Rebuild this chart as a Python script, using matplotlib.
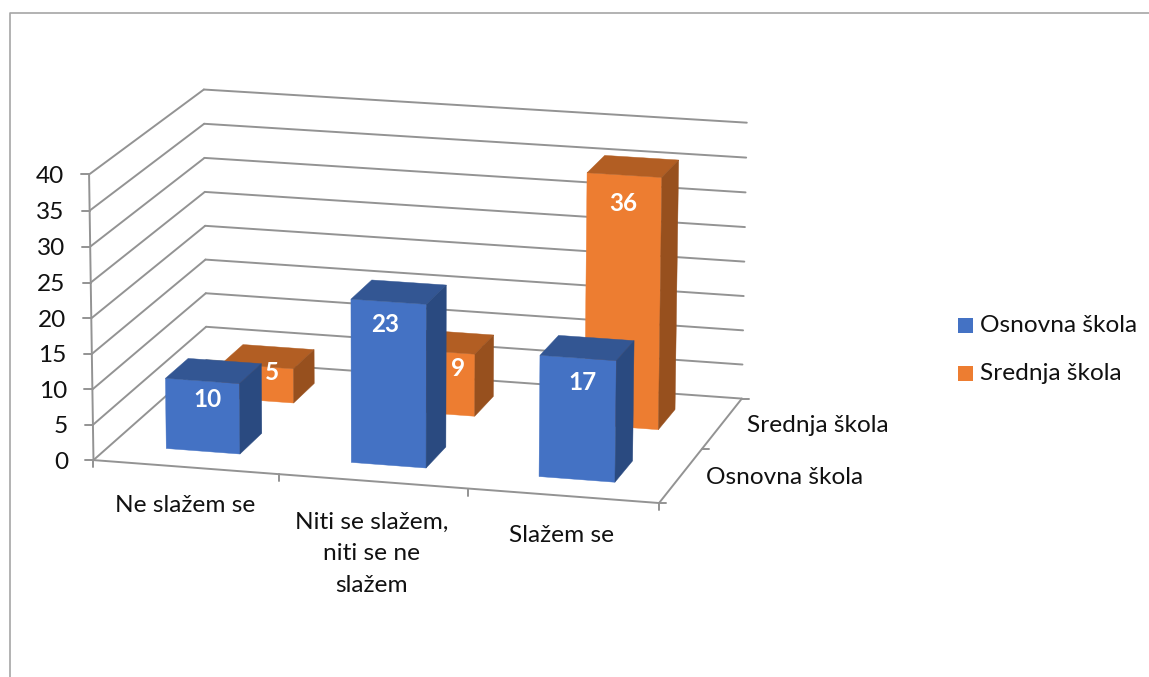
import numpy as np
import matplotlib
matplotlib.use("Agg")
import matplotlib.pyplot as plt
from matplotlib.patches import Polygon, Rectangle

categories = ["Ne slažem se", "Niti se slažem,\nniti se ne\nslažem", "Slažem se"]
series_names = ["Osnovna škola", "Srednja škola"]
osnovna = [10, 23, 17]
srednja = [5, 9, 36]
y_ticks = [0, 5, 10, 15, 20, 25, 30, 35, 40]

plt.rcParams['font.family'] = ['Lato', 'DejaVu Sans']

# box corners (category, series, value) and where they sit in the picture
box = [(0, 0, 0), (0, 0, 40), (0, 2, 40), (0, 2, 0), (3, 0, 0), (3, 2, 0), (3, 2, 40)]
px = [(93.3, 459.3), (89, 175), (204, 89), (206.5, 361), (659.3, 503.3), (741.7, 398.3), (746.7, 122.7)]

# fit the perspective camera
A = []
b = []
for (c, s, v), (u, w) in zip(box, px):
    A.append([c, s, v, 1, 0, 0, 0, 0, -u*c, -u*s, -u*v])
    A.append([0, 0, 0, 0, c, s, v, 1, -w*c, -w*s, -w*v])
    b += [u, w]
m = np.linalg.lstsq(np.array(A, float), np.array(b, float), rcond=None)[0]
P = np.append(m, 1).reshape(3, 4)


def proj(c, s, v):
    r = P @ np.array([c, s, v, 1.0])
    return r[0]/r[2], r[1]/r[2]


fig = plt.figure(figsize=(11.49, 6.77), dpi=100)
ax = fig.add_axes([0, 0, 1, 1])
ax.set_xlim(0, 1149)
ax.set_ylim(677, 0)
ax.axis("off")

FS = 17.6
TXT = "#111111"
line = dict(color="#939393", lw=1.4, solid_capstyle="round", zorder=1)


def seg(a, b, **kw):
    ax.plot(*zip(a, b), **{**line, **kw})


# outer frame of the chart, only top and left show
ax.plot([1149, 10, 10], [13, 13, 677], color="#a6a6a6", lw=1.2, zorder=0)

# walls
for t in y_ticks:
    seg(proj(0, 0, t), proj(0, 2, t))
    seg(proj(0, 2, t), proj(3, 2, t))
    x0, y0 = proj(0, 0, t)
    seg((x0-8, y0), (x0, y0))
    ax.text(x0-25, y0+2, str(t), ha="right", va="center", fontsize=FS, color=TXT)
seg(proj(0, 0, 0), proj(0, 0, 40))

# floor
seg(proj(0, 0, 0), proj(3, 0, 0))
seg(proj(3, 0, 0), proj(3, 2, 0))
for i in range(4):
    x0, y0 = proj(i, 0, 0)
    seg((x0, y0), (x0, y0+7))
for i in range(3):
    x0, y0 = proj(3, i, 0)
    seg((x0, y0), (x0+7, y0))

BAR_W = 0.4
BAR_D = 0.4
colors = [("#4472C4", "#335693", "#2A4A80"), ("#ED7D31", "#B25E23", "#97501E")]


def bar(c, s, v, col, z):
    x0, x1 = c+0.5-BAR_W/2, c+0.5+BAR_W/2
    d0, d1 = s+0.5-BAR_D/2, s+0.5+BAR_D/2
    front, top, side = col
    ax.add_patch(Polygon([proj(x0, d0, 0), proj(x1, d0, 0), proj(x1, d0, v), proj(x0, d0, v)],
                         fc=front, ec=front, lw=0.3, zorder=z))
    ax.add_patch(Polygon([proj(x0, d0, v), proj(x1, d0, v), proj(x1, d1, v), proj(x0, d1, v)],
                         fc=top, ec=top, lw=0.3, zorder=z))
    ax.add_patch(Polygon([proj(x1, d0, 0), proj(x1, d1, 0), proj(x1, d1, v), proj(x1, d0, v)],
                         fc=side, ec=side, lw=0.3, zorder=z))


# orange row is behind, so it goes first
for i, v in enumerate(srednja):
    bar(i, 1, v, colors[1], 2+i)
for i, v in enumerate(osnovna):
    bar(i, 0, v, colors[0], 6+i)

# data labels, the two low orange ones were dragged to the right
nudge = [(5, 1), (-3, 1), (4, 5)], [(14, -9), (20, 0), (-1, 2)]
for s, vals in enumerate([osnovna, srednja]):
    for i, v in enumerate(vals):
        x0, y0 = proj(i+0.5, s+0.5-BAR_D/2, v)
        dx, dy = nudge[s][i]
        ax.text(x0+dx, y0+dy+14+0.33*v, str(v), ha="center", va="center", fontsize=17.5,
                fontweight="bold", color="white", zorder=12)

# category and series names
ax.text(185, 506, categories[0], ha="center", va="center", fontsize=FS, color=TXT)
ax.text(372, 554, categories[1], ha="center", va="center", fontsize=FS, color=TXT,
        linespacing=1.62)
ax.text(562, 535, categories[2], ha="center", va="center", fontsize=FS, color=TXT)
ax.text(747, 425, series_names[1], ha="left", va="center", fontsize=FS, color=TXT)
ax.text(706, 477, series_names[0], ha="left", va="center", fontsize=FS, color=TXT)

# legend
for name, col, y in zip(series_names, colors, [325, 373]):
    ax.add_patch(Rectangle((958, y-7.5), 15, 15, fc=col[0], ec="none"))
    ax.text(980, y+1, name, ha="left", va="center", fontsize=FS, color=TXT)

fig.savefig("out.png", dpi=100)
